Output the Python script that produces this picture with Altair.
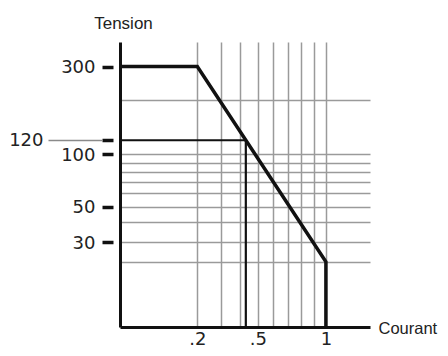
import altair as alt
import pandas as pd

# ---- data ----
X_MIN, X_MAX = 0.0132, 1.415      # current axis extent
Y_MIN, Y_MAX = 5.8, 405           # voltage axis extent

x_grid = [0.2, 0.3, 0.4, 0.5, 0.6, 0.7, 0.8, 0.9, 1.0]
x_labeled = [0.2, 0.5, 1.0]
y_grid = [200, 100, 90, 80, 70, 60, 50, 40, 30, 22]
y_marked = [300, 120, 100, 50, 30]
y_pointer = [120]

curve_x = [X_MIN, 0.2, 1.0, 1.0]
curve_y = [300, 300, 22, Y_MIN]
limit_x = [X_MIN, 0.43, 0.43]
limit_y = [120, 120, Y_MIN]

curve = pd.DataFrame({"x": curve_x, "y": curve_y, "i": range(len(curve_x))})
limit = pd.DataFrame({"x": limit_x, "y": limit_y, "i": range(len(limit_x))})
marked = pd.DataFrame({"y": y_marked})
pointer = pd.DataFrame({"y": y_pointer})

GRID = "#9a9a9a"
INK = "#111111"
TXT = "#222222"

x_scale = alt.Scale(type="sqrt", domain=[X_MIN, X_MAX], zero=False, nice=False)
y_scale = alt.Scale(type="symlog", constant=8, domain=[Y_MIN, Y_MAX], zero=False, nice=False)

x_axis = alt.Axis(
    values=x_grid, grid=True, gridColor=GRID, gridWidth=1.5,
    ticks=False, tickSize=0, domainColor=INK, domainWidth=3,
    labelFont="DejaVu Sans", labelFontSize=18, labelColor=TXT, labelPadding=3,
    labelFlush=False, labelOverlap=False, labelBound=False,
    format=".1~f",
    labelExpr=f"indexof({x_labeled}, datum.value) >= 0 ? replace(datum.label, '0.', '.') : ''",
    title="Courant", titleX=258, titleY=1, titleAlign="left", titleBaseline="middle",
    titleFont="Liberation Sans", titleFontSize=16.5, titleFontWeight="normal", titleColor=TXT,
)

y_main_axis = alt.Axis(
    orient="left", values=y_grid, grid=True, gridColor=GRID, gridWidth=1.5,
    ticks=False, tickSize=0, labels=False, domainColor=INK, domainWidth=3,
    title="Tension", titleAngle=0, titleX=3, titleY=-14, titleAlign="center",
    titleBaseline="alphabetic", titleFont="Liberation Sans", titleFontSize=17,
    titleFontWeight="normal", titleColor=TXT,
)

y_arrow_axis = alt.Axis(
    orient="left", offset=7, values=y_marked, domain=False, grid=False,
    ticks=True, tickSize=11, tickWidth=3.5, tickColor=INK,
    labelFont="DejaVu Sans", labelFontSize=18, labelColor=TXT, labelPadding=7,
    labelOffset=1, labelOverlap=False, labelBound=False, format="d",
    labelExpr="datum.value == 120 ? '' : datum.label", title="",
)

y_pointer_axis = alt.Axis(
    orient="left", offset=18, values=y_pointer, domain=False, grid=False,
    ticks=True, tickSize=54, tickWidth=1.3, tickColor="#8a8a8a",
    labelFont="DejaVu Sans", labelFontSize=18, labelColor=TXT, labelPadding=5,
    labelOverlap=False, labelBound=False, format="d", title="",
)

curve_layer = alt.Chart(curve).mark_line(color=INK, strokeWidth=3.5, strokeJoin="miter").encode(
    x=alt.X("x:Q", scale=x_scale, axis=x_axis),
    y=alt.Y("y:Q", scale=y_scale, axis=y_main_axis),
    order="i:O",
)

limit_layer = alt.Chart(limit).mark_line(color=INK, strokeWidth=2.2, strokeJoin="miter").encode(
    x=alt.X("x:Q", scale=x_scale, axis=x_axis),
    y=alt.Y("y:Q", scale=y_scale, axis=None),
    order="i:O",
)

arrow_layer = alt.Chart(marked).mark_point(opacity=0).encode(
    y=alt.Y("y:Q", scale=y_scale, axis=y_arrow_axis),
)

pointer_layer = alt.Chart(pointer).mark_point(opacity=0).encode(
    y=alt.Y("y:Q", scale=y_scale, axis=y_pointer_axis),
)

chart = (
    alt.layer(curve_layer, limit_layer, arrow_layer, pointer_layer)
    .resolve_axis(y="independent")
    .properties(
        width=250,
        height=285,
        autosize=alt.AutoSizeParams(type="none"),
        padding={"left": 112, "top": 34, "right": 70, "bottom": 21},
        background="white",
    )
    .configure_view(stroke="transparent")
)

chart.save("out.html", embed_options={"renderer": "svg", "actions": False})
